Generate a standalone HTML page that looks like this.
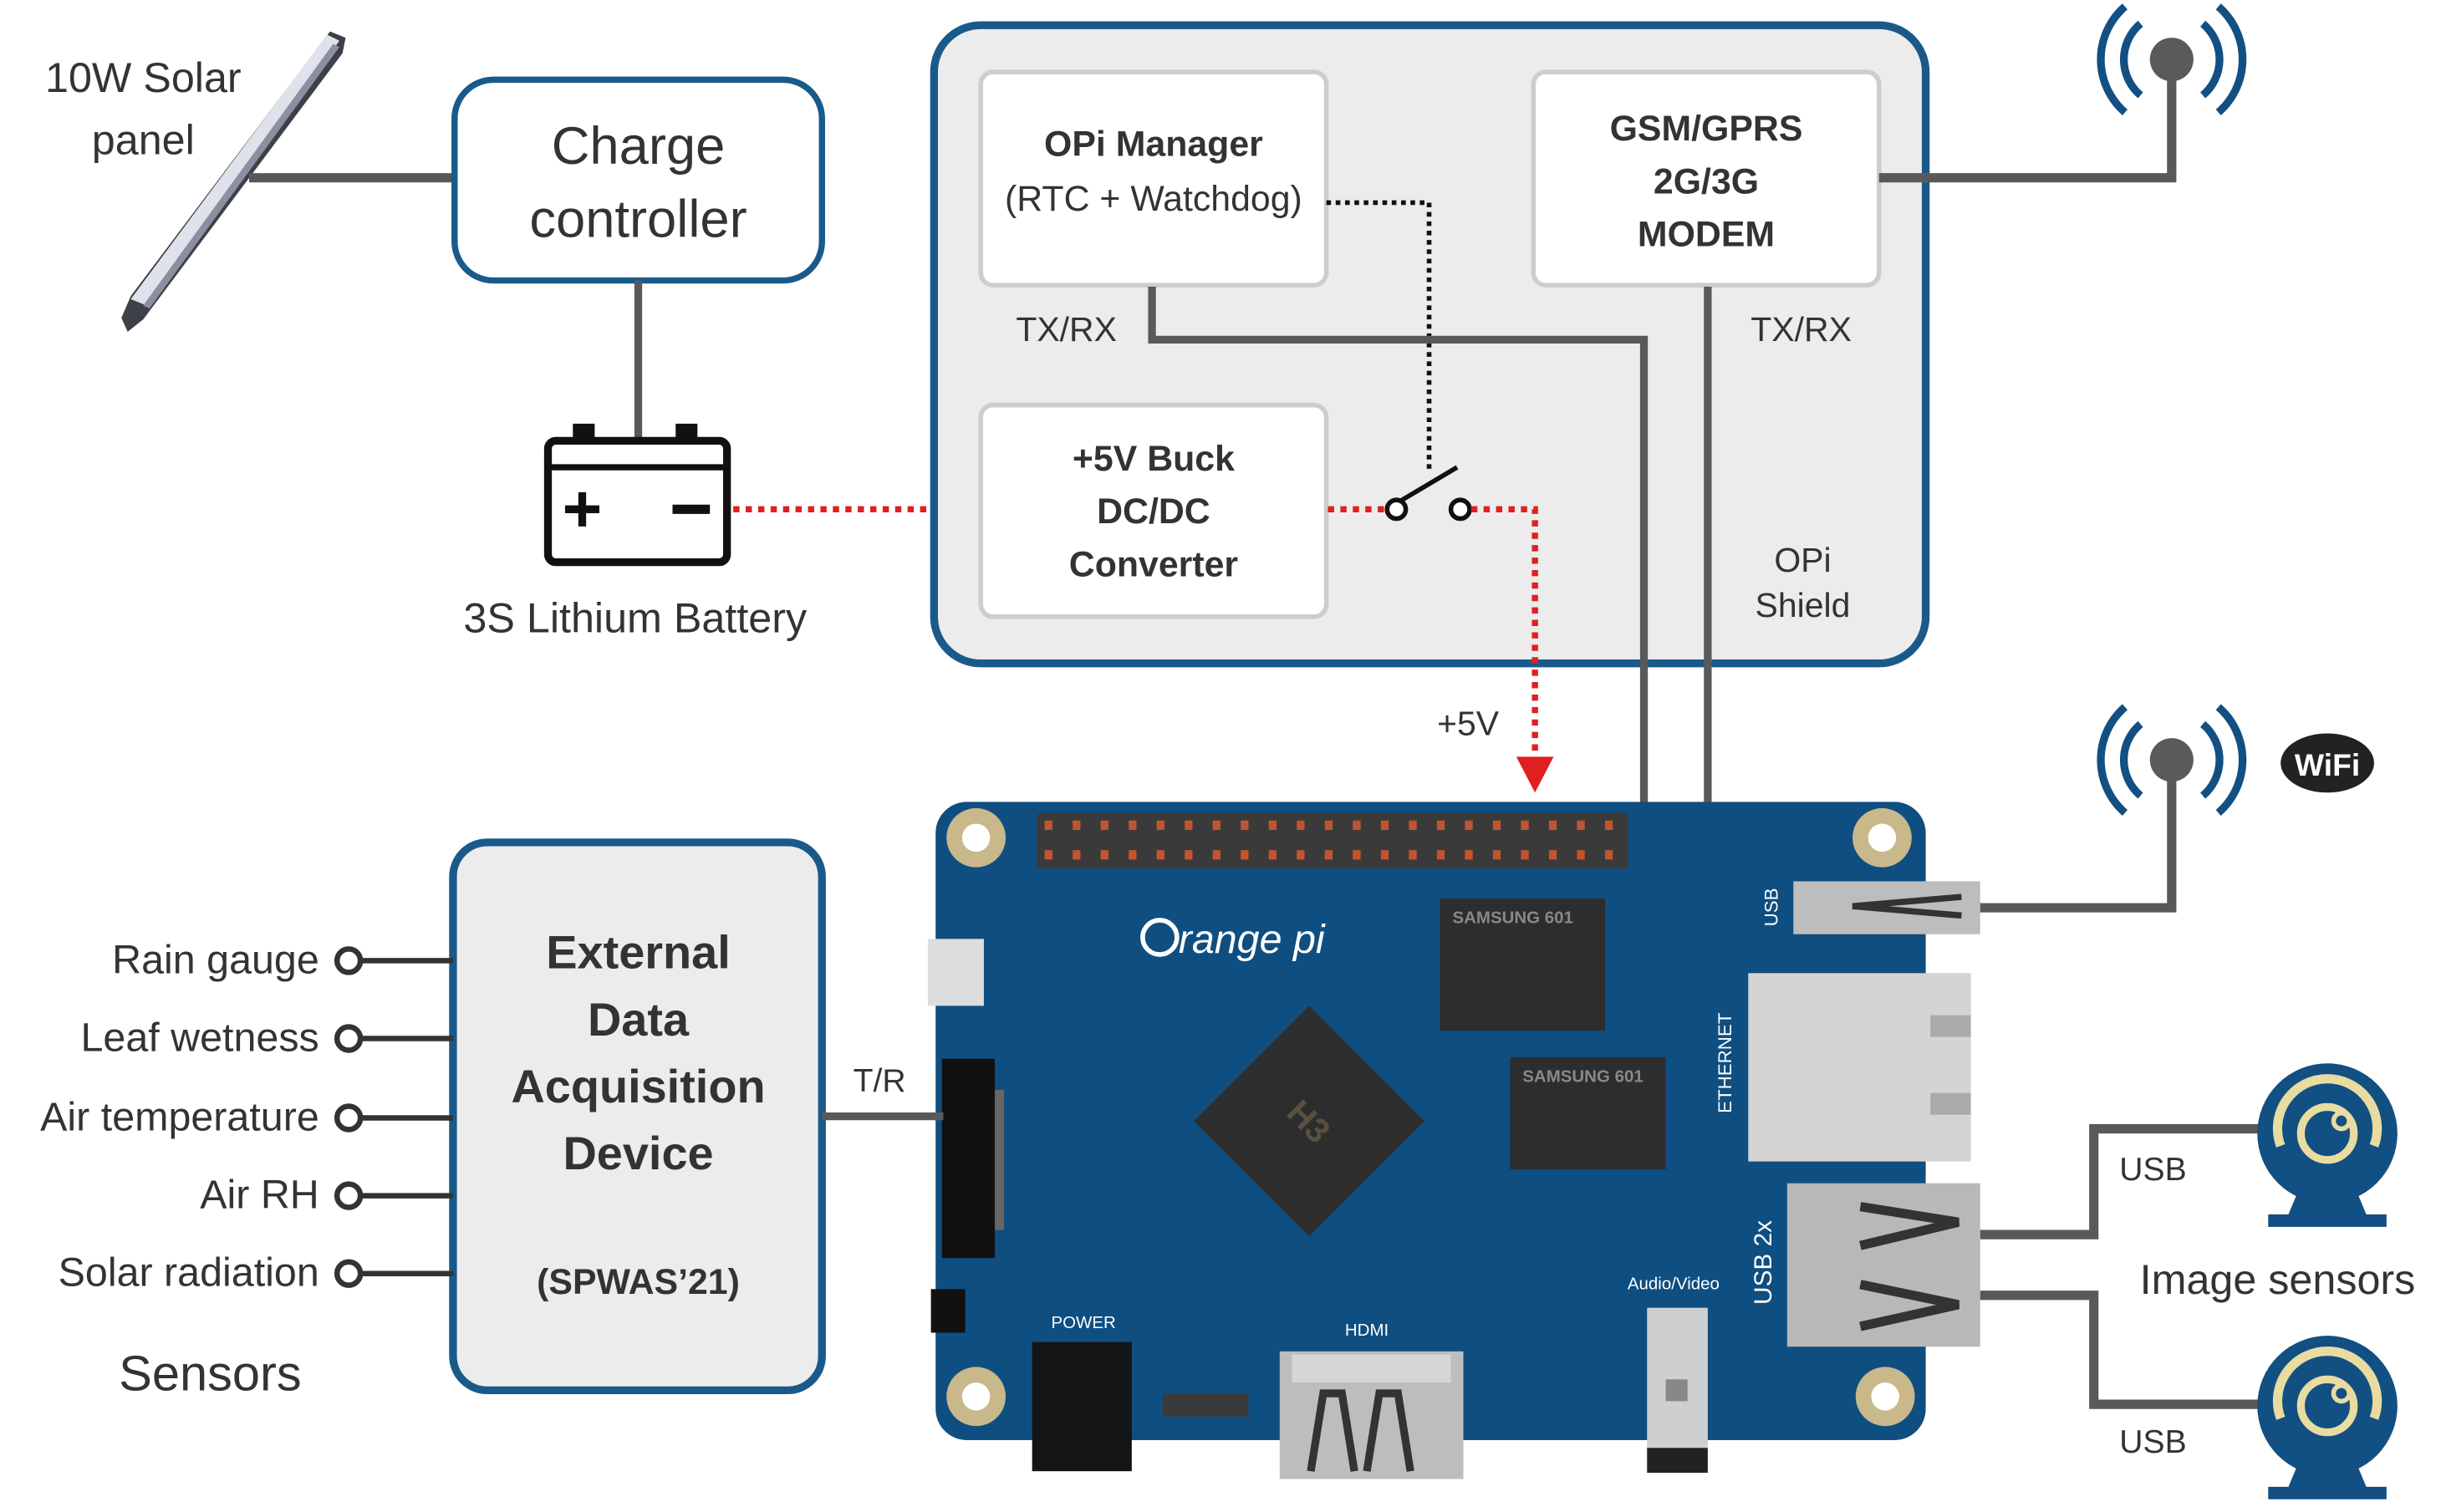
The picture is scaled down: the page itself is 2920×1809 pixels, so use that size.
<!DOCTYPE html>
<html><head><meta charset="utf-8"><style>
html,body{margin:0;padding:0;background:#fff}
svg{display:block}
text{font-family:"Liberation Sans",sans-serif;fill:#333}
</style></head><body>
<svg width="2920" height="1809" viewBox="0 0 1568 971" xmlns="http://www.w3.org/2000/svg">
<defs>
<g id="ant">
<circle cx="0" cy="0" r="14" fill="#5a5a5a"/>
<path d="M-20,-23 A30,30 0 0 0 -20,23" fill="none" stroke="#124f82" stroke-width="5"/>
<path d="M-30,-34 A45,45 0 0 0 -30,34" fill="none" stroke="#124f82" stroke-width="5"/>
<path d="M20,-23 A30,30 0 0 1 20,23" fill="none" stroke="#124f82" stroke-width="5"/>
<path d="M30,-34 A45,45 0 0 1 30,34" fill="none" stroke="#124f82" stroke-width="5"/>
</g>
<g id="cam">
<path d="M-20,40 L-25,52 L-38,52 L-38,60 L38,60 L38,52 L25,52 L20,40 Z" fill="#124f82"/>
<circle cx="0" cy="0" r="45" fill="#124f82"/>
<path d="M-30,8 A32,32 0 1 1 30,8" fill="none" stroke="#e8dca0" stroke-width="6"/>
<circle cx="0" cy="0" r="17" fill="none" stroke="#e8dca0" stroke-width="5"/>
<circle cx="9" cy="-8" r="5" fill="#124f82" stroke="#e8dca0" stroke-width="3"/>
</g>
<g id="hole"><circle r="19" fill="#c8b88a"/><circle r="9" fill="#fff"/></g>
</defs>

<!-- solar panel -->
<path d="M212,20 L222,24 L220,34 L92,205 L82,213 L78,204 L84,190 Z" fill="#3e4048"/>
<path d="M210,22 L218,26 L94,196 L84,192 Z" fill="#dfe2ea"/>
<path d="M214,28 L218,30 L96,198 L92,196 Z" fill="#8a90a0"/>
<text x="92" y="59" font-size="27" text-anchor="middle">10W Solar</text>
<text x="92" y="99" font-size="27" text-anchor="middle">panel</text>
<line x1="160" y1="114" x2="292" y2="114" stroke="#595959" stroke-width="6"/>

<!-- charge controller -->
<rect x="292" y="51" width="236" height="129" rx="25" fill="#fff" stroke="#1a5a8a" stroke-width="4"/>
<text x="410" y="105" font-size="34" text-anchor="middle">Charge</text>
<text x="410" y="152" font-size="34" text-anchor="middle">controller</text>
<line x1="410" y1="180" x2="410" y2="285" stroke="#595959" stroke-width="5"/>

<!-- battery -->
<rect x="368" y="272" width="14" height="12" fill="#111"/>
<rect x="434" y="272" width="14" height="12" fill="#111"/>
<rect x="352" y="283" width="115" height="78" rx="5" fill="#fff" stroke="#111" stroke-width="5"/>
<line x1="352" y1="300" x2="467" y2="300" stroke="#111" stroke-width="4"/>
<path d="M363,327 H385 M374,316 V338" stroke="#111" stroke-width="5"/>
<path d="M432,327 H456" stroke="#111" stroke-width="6"/>
<text x="408" y="406" font-size="27" text-anchor="middle">3S Lithium Battery</text>
<line x1="471" y1="327" x2="628" y2="327" stroke="#e02020" stroke-width="4" stroke-dasharray="4,4"/>

<!-- shield -->
<rect x="600" y="16" width="637" height="410" rx="30" fill="#ececec" stroke="#1a5a8a" stroke-width="5"/>
<rect x="630" y="46" width="222" height="137" rx="8" fill="#fff" stroke="#cdcdcd" stroke-width="3"/>
<text x="741" y="100" font-size="23" font-weight="bold" text-anchor="middle">OPi Manager</text>
<text x="741" y="135" font-size="23" text-anchor="middle">(RTC + Watchdog)</text>
<rect x="985" y="46" width="222" height="137" rx="8" fill="#fff" stroke="#cdcdcd" stroke-width="3"/>
<text x="1096" y="90" font-size="23" font-weight="bold" text-anchor="middle">GSM/GPRS</text>
<text x="1096" y="124" font-size="23" font-weight="bold" text-anchor="middle">2G/3G</text>
<text x="1096" y="158" font-size="23" font-weight="bold" text-anchor="middle">MODEM</text>
<rect x="630" y="260" width="222" height="136" rx="8" fill="#fff" stroke="#cdcdcd" stroke-width="3"/>
<text x="741" y="302" font-size="23" font-weight="bold" text-anchor="middle">+5V Buck</text>
<text x="741" y="336" font-size="23" font-weight="bold" text-anchor="middle">DC/DC</text>
<text x="741" y="370" font-size="23" font-weight="bold" text-anchor="middle">Converter</text>
<text x="685" y="219" font-size="22" text-anchor="middle">TX/RX</text>
<text x="1157" y="219" font-size="22" text-anchor="middle">TX/RX</text>
<text x="1158" y="367" font-size="22" text-anchor="middle">OPi</text>
<text x="1158" y="396" font-size="22" text-anchor="middle">Shield</text>

<path d="M852,130 H918 V302" fill="none" stroke="#111" stroke-width="3" stroke-dasharray="3,3"/>
<circle cx="897" cy="327" r="6" fill="#fff" stroke="#111" stroke-width="3"/>
<circle cx="938" cy="327" r="6" fill="#fff" stroke="#111" stroke-width="3"/>
<line x1="899" y1="322" x2="936" y2="300" stroke="#111" stroke-width="3"/>
<line x1="853" y1="327" x2="890" y2="327" stroke="#e02020" stroke-width="4" stroke-dasharray="4,4"/>
<path d="M945,327 H986 V486" fill="none" stroke="#e02020" stroke-width="4" stroke-dasharray="4,4"/>
<path d="M974,486 L998,486 L986,509 Z" fill="#e02020"/>
<text x="943" y="472" font-size="22" text-anchor="middle">+5V</text>

<path d="M740,184 V218 H1056 V516" fill="none" stroke="#595959" stroke-width="5"/>
<line x1="1097" y1="184" x2="1097" y2="516" stroke="#595959" stroke-width="5"/>

<!-- GSM antenna -->
<path d="M1207,114 H1395 V40" fill="none" stroke="#595959" stroke-width="6"/>
<use href="#ant" x="1395" y="38"/>

<!-- board -->
<rect x="601" y="515" width="636" height="410" rx="20" fill="#0f4e80"/>
<use href="#hole" x="627" y="538"/><use href="#hole" x="1209" y="538"/>
<use href="#hole" x="627" y="897"/><use href="#hole" x="1211" y="897"/>
<rect x="666" y="522" width="380" height="36" rx="3" fill="#3a3a3a"/>
<g fill="#c05530">
<path d="M671,527h5v6h-5zM671,546h5v6h-5zM689,527h5v6h-5zM689,546h5v6h-5zM707,527h5v6h-5zM707,546h5v6h-5zM725,527h5v6h-5zM725,546h5v6h-5zM743,527h5v6h-5zM743,546h5v6h-5zM761,527h5v6h-5zM761,546h5v6h-5zM779,527h5v6h-5zM779,546h5v6h-5zM797,527h5v6h-5zM797,546h5v6h-5zM815,527h5v6h-5zM815,546h5v6h-5zM833,527h5v6h-5zM833,546h5v6h-5zM851,527h5v6h-5zM851,546h5v6h-5zM869,527h5v6h-5zM869,546h5v6h-5zM887,527h5v6h-5zM887,546h5v6h-5zM905,527h5v6h-5zM905,546h5v6h-5zM923,527h5v6h-5zM923,546h5v6h-5zM941,527h5v6h-5zM941,546h5v6h-5zM959,527h5v6h-5zM959,546h5v6h-5zM977,527h5v6h-5zM977,546h5v6h-5zM995,527h5v6h-5zM995,546h5v6h-5zM1013,527h5v6h-5zM1013,546h5v6h-5zM1031,527h5v6h-5zM1031,546h5v6h-5z"/>
</g>
<circle cx="745" cy="602" r="11" fill="none" stroke="#fff" stroke-width="3"/>
<text x="757" y="612" font-size="26" style="fill:#fff" font-style="italic">range pi</text>
<rect x="925" y="577" width="106" height="85" fill="#2d2d2d"/>
<text x="933" y="593" font-size="11" style="fill:#888" font-weight="bold">SAMSUNG  601</text>
<rect x="970" y="679" width="100" height="72" fill="#2d2d2d"/>
<text x="978" y="695" font-size="11" style="fill:#888" font-weight="bold">SAMSUNG  601</text>
<path d="M841,646 L915,720 L841,794 L767,720 Z" fill="#2d2d2d"/>
<text x="841" y="728" font-size="22" style="fill:#5a5040" font-weight="bold" text-anchor="middle" transform="rotate(45 841 720)">H3</text>
<rect x="596" y="603" width="36" height="43" fill="#ddd"/>
<rect x="605" y="680" width="34" height="128" fill="#111"/>
<rect x="639" y="700" width="6" height="90" fill="#666"/>
<rect x="598" y="828" width="22" height="28" fill="#111"/>
<text x="696" y="853" font-size="11" style="fill:#fff" text-anchor="middle">POWER</text>
<rect x="663" y="862" width="64" height="83" fill="#151515"/>
<rect x="747" y="895" width="55" height="15" fill="#3a3a3a"/>
<text x="878" y="858" font-size="11" style="fill:#fff" text-anchor="middle">HDMI</text>
<rect x="822" y="868" width="118" height="82" fill="#bdbdbd"/>
<rect x="830" y="870" width="102" height="18" fill="#d6d6d6"/>
<path d="M842,945 L850,895 L862,895 L870,945 M878,945 L886,895 L898,895 L906,945" fill="none" stroke="#333" stroke-width="5"/>
<text x="1075" y="828" font-size="11" style="fill:#fff" text-anchor="middle">Audio/Video</text>
<rect x="1058" y="840" width="39" height="90" fill="#cfcfcf"/>
<rect x="1058" y="930" width="39" height="16" fill="#222"/>
<rect x="1070" y="886" width="14" height="14" fill="#888"/>
<text font-size="12" style="fill:#fff" transform="translate(1142,595) rotate(-90)">USB</text>
<rect x="1152" y="566" width="120" height="34" fill="#bdbdbd"/>
<path d="M1260,576 L1190,582 L1260,588" fill="none" stroke="#333" stroke-width="4"/>
<text font-size="12" style="fill:#fff" transform="translate(1112,715) rotate(-90)">ETHERNET</text>
<rect x="1123" y="625" width="143" height="121" fill="#d4d4d4"/>
<rect x="1240" y="652" width="26" height="14" fill="#aaa"/>
<rect x="1240" y="702" width="26" height="14" fill="#aaa"/>
<text font-size="16" style="fill:#fff" transform="translate(1138,838) rotate(-90)">USB 2x</text>
<rect x="1148" y="760" width="124" height="105" fill="#b8b8b8"/>
<path d="M1195,775 L1258,785 L1195,800 M1195,825 L1258,838 L1195,852" fill="none" stroke="#333" stroke-width="6"/>

<!-- wifi -->
<path d="M1272,583 H1395 V490" fill="none" stroke="#595959" stroke-width="6"/>
<use href="#ant" x="1395" y="488"/>
<ellipse cx="1495" cy="490" rx="30" ry="19" fill="#222"/>
<text x="1495" y="498" font-size="20" font-weight="bold" style="fill:#fff" text-anchor="middle">WiFi</text>

<!-- cameras -->
<path d="M1272,793 H1345 V725 H1455" fill="none" stroke="#595959" stroke-width="6"/>
<path d="M1272,832 H1345 V902 H1455" fill="none" stroke="#595959" stroke-width="6"/>
<use href="#cam" x="1495" y="728"/>
<use href="#cam" x="1495" y="903"/>
<text x="1383" y="758" font-size="21" text-anchor="middle">USB</text>
<text x="1383" y="933" font-size="21" text-anchor="middle">USB</text>
<text x="1463" y="831" font-size="27" text-anchor="middle">Image sensors</text>

<!-- DAQ -->
<rect x="291" y="541" width="237" height="352" rx="22" fill="#ececec" stroke="#1a5a8a" stroke-width="5"/>
<text x="410" y="622" font-size="30" font-weight="bold" text-anchor="middle">External</text>
<text x="410" y="665" font-size="30" font-weight="bold" text-anchor="middle">Data</text>
<text x="410" y="708" font-size="30" font-weight="bold" text-anchor="middle">Acquisition</text>
<text x="410" y="751" font-size="30" font-weight="bold" text-anchor="middle">Device</text>
<text x="410" y="831" font-size="23" font-weight="bold" text-anchor="middle">(SPWAS’21)</text>
<line x1="528" y1="717" x2="606" y2="717" stroke="#595959" stroke-width="5"/>
<text x="565" y="701" font-size="21" text-anchor="middle">T/R</text>

<g stroke="#333" stroke-width="3.5" fill="#fff">
<line x1="232" y1="617" x2="291" y2="617"/><circle cx="224" cy="617" r="7.5"/>
<line x1="232" y1="667" x2="291" y2="667"/><circle cx="224" cy="667" r="7.5"/>
<line x1="232" y1="718" x2="291" y2="718"/><circle cx="224" cy="718" r="7.5"/>
<line x1="232" y1="768" x2="291" y2="768"/><circle cx="224" cy="768" r="7.5"/>
<line x1="232" y1="818" x2="291" y2="818"/><circle cx="224" cy="818" r="7.5"/>
</g>
<g font-size="26" text-anchor="end">
<text x="205" y="625">Rain gauge</text>
<text x="205" y="675">Leaf wetness</text>
<text x="205" y="726">Air temperature</text>
<text x="205" y="776">Air RH</text>
<text x="205" y="826">Solar radiation</text>
</g>
<text x="135" y="893" font-size="32" text-anchor="middle">Sensors</text>
</svg>
</body></html>
